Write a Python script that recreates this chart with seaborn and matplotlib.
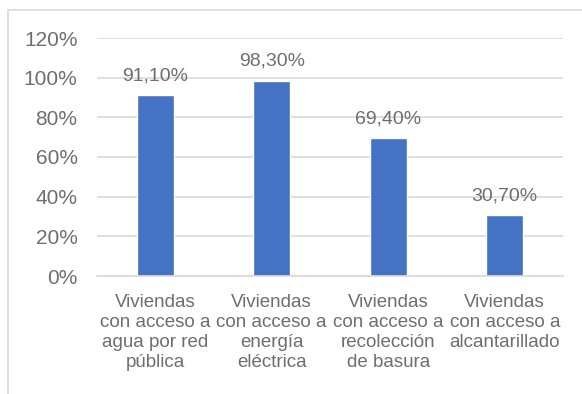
import matplotlib
matplotlib.use("Agg")
import matplotlib.pyplot as plt
import seaborn as sns
import pandas as pd
from matplotlib.patches import Rectangle

categories = [
    "Viviendas\ncon acceso a\nagua por red\npública",
    "Viviendas\ncon acceso a\nenergía\neléctrica",
    "Viviendas\ncon acceso a\nrecolección\nde basura",
    "Viviendas\ncon acceso a\nalcantarillado",
]
values = [91.10, 98.30, 69.40, 30.70]
value_labels = ["91,10%", "98,30%", "69,40%", "30,70%"]
yticks = [0, 20, 40, 60, 80, 100, 120]
ytick_labels = ["0%", "20%", "40%", "60%", "80%", "100%", "120%"]

sns.set_theme(style="white")
plt.rcParams["font.family"] = ["Liberation Sans", "DejaVu Sans"]

W, H = 582, 394
fig = plt.figure(figsize=(W / 100, H / 100), dpi=100)
ax = fig.add_axes([97 / W, 1 - 276 / H, (563 - 97) / W, (276 - 38) / H])

df = pd.DataFrame({"cat": categories, "val": values})
sns.barplot(data=df, x="cat", y="val", color="#4472C4", saturation=1,
            width=0.32, ax=ax)

ax.set_ylim(0, 120)
ax.set_xlim(-0.5, 3.5)
ax.set_yticks(yticks)
ax.set_yticklabels(ytick_labels)
ax.yaxis.grid(True, color="#D9D9D9", linewidth=1.2)
ax.set_axisbelow(True)
for s in ["top", "right", "left"]:
    ax.spines[s].set_visible(False)
ax.spines["bottom"].set_color("#D9D9D9")
ax.spines["bottom"].set_linewidth(1.2)
ax.set_xlabel("")
ax.set_ylabel("")
ax.tick_params(axis="y", length=0, pad=14, labelsize=15, labelcolor="#6E6E6E")
ax.tick_params(axis="x", length=0, pad=13, labelsize=13.5, labelcolor="#6E6E6E")
for lbl in ax.get_xticklabels():
    lbl.set_linespacing(1.24)
    lbl.set_verticalalignment("top")

for i, (v, t) in enumerate(zip(values, value_labels)):
    ax.annotate(t, (i, v), xytext=(0, 8), textcoords="offset points",
                ha="center", va="bottom", fontsize=14, color="#6E6E6E")

fig.patches.append(Rectangle((8 / W, -0.05), 1.2, 1.05 - 10 / H,
                             transform=fig.transFigure, fill=False,
                             edgecolor="#D9D9D9", linewidth=1.2))

fig.savefig("out.png", dpi=100, facecolor="white")
